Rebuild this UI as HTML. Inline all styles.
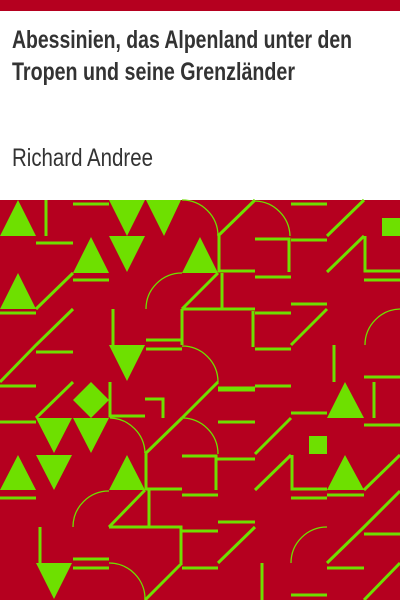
<!DOCTYPE html>
<html><head><meta charset="utf-8"><style>
html,body{margin:0;padding:0;background:#fff;width:400px;height:600px;overflow:hidden}
svg{display:block}
</style></head><body>
<svg width="400" height="600" viewBox="0 0 400 600">
<rect x="0" y="0" width="400" height="11" fill="#b5001f"/>
<text x="12" y="48" font-family="'Liberation Sans Narrow','Liberation Sans',sans-serif" font-weight="bold" font-size="25" fill="#333" textLength="340" lengthAdjust="spacingAndGlyphs">Abessinien, das Alpenland unter den</text>
<text x="12" y="80" font-family="'Liberation Sans Narrow','Liberation Sans',sans-serif" font-weight="bold" font-size="25" fill="#333" textLength="283" lengthAdjust="spacingAndGlyphs">Tropen und seine Grenzländer</text>
<text x="12" y="166" font-family="'Liberation Sans Narrow','Liberation Sans',sans-serif" font-size="25" fill="#333" textLength="141" lengthAdjust="spacingAndGlyphs">Richard Andree</text>
<g>
<rect x="0" y="200" width="400" height="400" fill="#b5001f"/>
<g fill="#6ee000">
<polygon points="0,236 18,200 36,236"/>
<polygon points="109,200 145,200 127,236"/>
<polygon points="146,200 181,200 164,236"/>
<polygon points="73,273 91,237 109,273"/>
<polygon points="109,236 145,236 127,272"/>
<polygon points="182,273 200,237 218,273"/>
<polygon points="0,309 18,273 36,309"/>
<polygon points="109,345 145,345 127,381"/>
<polygon points="73,382 91,400 73,418 55,400" transform="translate(18,0)"/>
<polygon points="36,418 72,418 54,453"/>
<polygon points="73,418 109,418 91,453"/>
<polygon points="0,490 18,455 36,490"/>
<polygon points="36,455 72,455 54,490"/>
<polygon points="109,490 127,455 145,490"/>
<polygon points="36,563 72,563 54,599"/>
<polygon points="327,418 345,382 364,418"/>
<polygon points="327,490 345,455 364,490"/>
<rect x="382" y="218" width="18" height="18"/>
<rect x="309" y="436" width="18" height="18"/>
</g>
<g stroke="#6ee000" stroke-width="3" fill="none">
<path d="M46 200V236M73 204H109M36 243H73M73 280H109M0 313H36M36 309L73 273M0 382L36 345L73 309M36 352H73"/>
<path d="M113 309V345M146 340H182M146 349H182M182 309V345M182 309H255M0 386H36"/>
<path d="M218 236L255 200M219 236V272M218 271H255M182 309L218 273M255 239H289V272M255 277H291M291 204H327M291 240H327"/>
<path d="M327 236L364 200M327 272L364 236M365 236V271H400M364 280H400M222 273V309M253 311V347M255 313H291M291 304H327M291 345L327 309M255 349H291"/>
<path d="M334 345V382M364 377H400M182 418L218 382M218 388H255M255 386H291M374 382V418"/>
<path d="M36 418L73 382M110 382V416H145M145 399H163V418M0 422H36M145 454L182 418M146 454V490M182 456H216V490M216 459H255M182 495H218"/>
<path d="M0 498H36M146 489H182M149 490V527M109 527L145 490M109 527H181V563M182 531H218M182 568H218M40 527V563M73 559H109M73 568H109M145 600L182 563"/>
<path d="M218 390H255M218 422H255M255 454L291 418M291 413H327M255 490L291 455M292 455V489H327M291 498H327M364 425H400M327 495H364M364 490L400 455"/>
<path d="M218 522H255M218 563L255 527M327 563L364 527L400 491M364 534H400M327 568H364M262 563V600M291 595H327M364 600L400 563"/>
</g>
<g stroke="#6ee000" stroke-width="1.3" fill="none">
<path d="M182 200A36 36 0 0 1 218 236"/>
<path d="M255 201A36 36 0 0 1 290 236"/>
<path d="M146 309A36 36 0 0 1 182 273"/>
<path d="M365 345A36 36 0 0 1 400 309"/>
<path d="M182 346A36 36 0 0 1 218 382"/>
<path d="M110 418A36 36 0 0 1 145 453"/>
<path d="M182 418A36 36 0 0 1 218 454"/>
<path d="M73 527A36 36 0 0 1 109 491"/>
<path d="M109 563A36 36 0 0 1 145 600"/>
<path d="M291 563A36 36 0 0 1 327 527"/>
</g>
</g>
</svg>
</body></html>
